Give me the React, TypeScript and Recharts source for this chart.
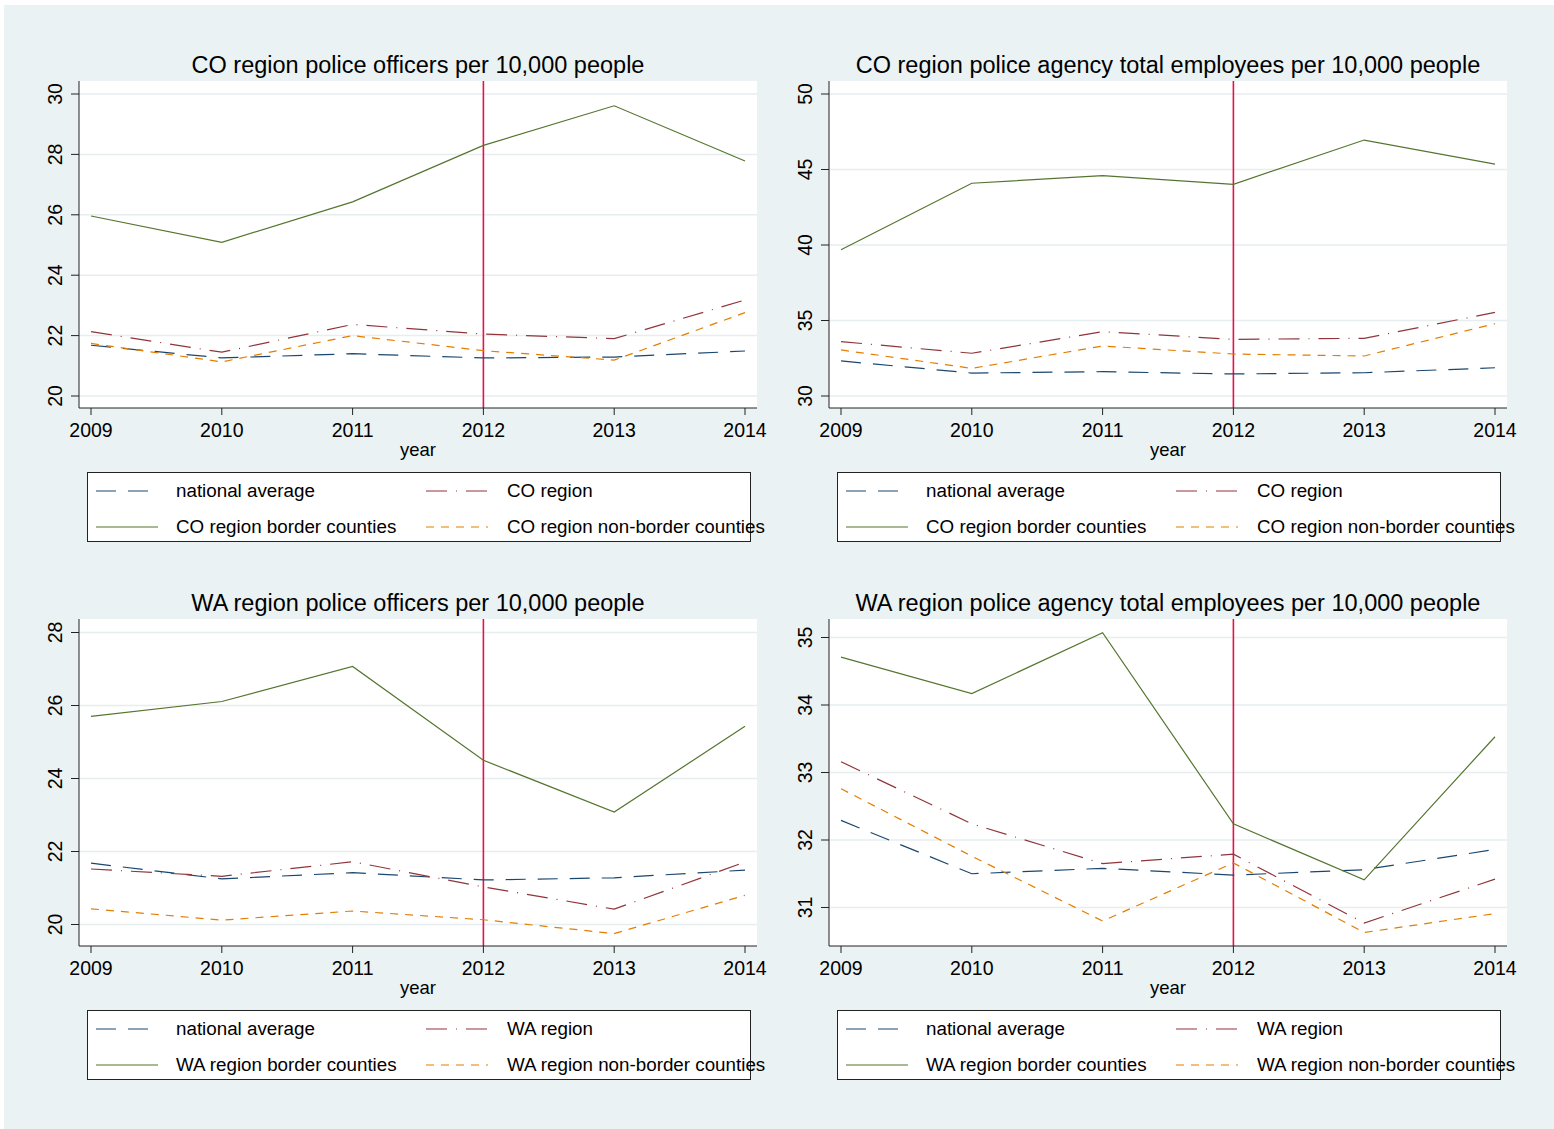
import React from 'react';
import {
  LineChart,
  Line,
  XAxis,
  YAxis,
  CartesianGrid,
  ReferenceLine,
} from 'recharts';

// years on the x axis
const years = [2009, 2010, 2011, 2012, 2013, 2014];

// CO region, officers per 10,000
const coOffNational = [21.68, 21.26, 21.4, 21.26, 21.29, 21.49];
const coOffRegion = [22.13, 21.45, 22.37, 22.05, 21.9, 23.18];
const coOffBorder = [25.96, 25.09, 26.43, 28.3, 29.61, 27.78];
const coOffNonBorder = [21.74, 21.13, 22.0, 21.5, 21.19, 22.76];

// CO region, total employees per 10,000
const coEmpNational = [32.32, 31.52, 31.61, 31.46, 31.54, 31.87];
const coEmpRegion = [33.6, 32.83, 34.26, 33.75, 33.82, 35.54];
const coEmpBorder = [39.69, 44.09, 44.59, 44.02, 46.95, 45.36];
const coEmpNonBorder = [33.05, 31.83, 33.31, 32.78, 32.65, 34.79];

// WA region, officers per 10,000
const waOffNational = [21.68, 21.25, 21.42, 21.22, 21.28, 21.49];
const waOffRegion = [21.52, 21.32, 21.72, 21.03, 20.42, 21.71];
const waOffBorder = [25.7, 26.11, 27.07, 24.5, 23.08, 25.43];
const waOffNonBorder = [20.43, 20.12, 20.37, 20.13, 19.75, 20.8];

// WA region, total employees per 10,000
const waEmpNational = [32.29, 31.5, 31.58, 31.48, 31.56, 31.86];
const waEmpRegion = [33.16, 32.24, 31.65, 31.79, 30.77, 31.42];
const waEmpBorder = [34.71, 34.17, 35.07, 32.24, 31.41, 33.53];
const waEmpNonBorder = [32.76, 31.76, 30.8, 31.66, 30.63, 30.91];

const coOffTicks = [20, 22, 24, 26, 28, 30];
const coEmpTicks = [30, 35, 40, 45, 50];
const waOffTicks = [20, 22, 24, 26, 28];
const waEmpTicks = [31, 32, 33, 34, 35];

const policyYear = 2012;

const FONT = '"Liberation Sans", Arial, sans-serif';
const BG = '#EAF2F3';
const PLOT_H = 327;

const lineStyles = [
  { key: 'national', color: '#1A476F', dash: '20 12' },
  { key: 'region', color: '#90353B', dash: '21 9 1 9' },
  { key: 'border', color: '#55752F', dash: undefined },
  { key: 'nonBorder', color: '#E37E00', dash: '8 7' },
];

const buildRows = (nat: number[], reg: number[], bor: number[], non: number[]) =>
  years.map((year, i) => ({
    year,
    national: nat[i],
    region: reg[i],
    border: bor[i],
    nonBorder: non[i],
  }));

// pad = pixels between the outer ticks and the plot edges
const panels = [
  {
    title: 'CO region police officers per 10,000 people',
    region: 'CO',
    left: 0,
    top: 0,
    rows: buildRows(coOffNational, coOffRegion, coOffBorder, coOffNonBorder),
    ticks: coOffTicks,
    pad: { top: 13, bottom: 12 },
  },
  {
    title: 'CO region police agency total employees per 10,000 people',
    region: 'CO',
    left: 750,
    top: 0,
    rows: buildRows(coEmpNational, coEmpRegion, coEmpBorder, coEmpNonBorder),
    ticks: coEmpTicks,
    pad: { top: 13, bottom: 12 },
  },
  {
    title: 'WA region police officers per 10,000 people',
    region: 'WA',
    left: 0,
    top: 538,
    rows: buildRows(waOffNational, waOffRegion, waOffBorder, waOffNonBorder),
    ticks: waOffTicks,
    pad: { top: 13.5, bottom: 21.5 },
  },
  {
    title: 'WA region police agency total employees per 10,000 people',
    region: 'WA',
    left: 750,
    top: 538,
    rows: buildRows(waEmpNational, waEmpRegion, waEmpBorder, waEmpNonBorder),
    ticks: waEmpTicks,
    pad: { top: 18.5, bottom: 38.5 },
  },
];

// widen the tick range so the outer ticks sit `pad` pixels inside the plot
const paddedDomain = (ticks: number[], pad: { top: number; bottom: number }) => {
  const lo = ticks[0];
  const hi = ticks[ticks.length - 1];
  const perPx = (hi - lo) / (PLOT_H - pad.top - pad.bottom);
  return [lo - pad.bottom * perPx, hi + pad.top * perPx];
};

// y labels are turned to read bottom-to-top, Stata style
const RotatedTick = (props: any) => {
  const { x, y, payload } = props;
  return (
    <text
      x={x}
      y={y}
      transform={`rotate(-90, ${x}, ${y})`}
      textAnchor="middle"
      fontSize={19.5}
      fontFamily={FONT}
      fill="#000"
    >
      {payload.value}
    </text>
  );
};

const LegendKey = ({ color, dash }: { color: string; dash?: string }) => (
  <svg width={62} height={4} style={{ display: 'block' }}>
    <line x1={0} y1={2} x2={62} y2={2} stroke={color} strokeWidth={1.2} strokeDasharray={dash} />
  </svg>
);

const Legend = ({ region }: { region: string }) => {
  const labels = [
    'national average',
    `${region} region`,
    `${region} region border counties`,
    `${region} region non-border counties`,
  ];
  const spots = [
    { sx: 8, tx: 88, y: 18 },
    { sx: 338, tx: 419, y: 18 },
    { sx: 8, tx: 88, y: 54 },
    { sx: 338, tx: 419, y: 54 },
  ];
  return (
    <div
      style={{
        position: 'absolute',
        left: 87,
        top: 472,
        width: 662,
        height: 68,
        background: '#fff',
        border: '1px solid #222',
      }}
    >
      {lineStyles.map((s, i) => (
        <React.Fragment key={s.key}>
          <div style={{ position: 'absolute', left: spots[i].sx, top: spots[i].y - 2 }}>
            <LegendKey color={s.color} dash={s.dash} />
          </div>
          <div
            style={{
              position: 'absolute',
              left: spots[i].tx,
              top: spots[i].y - 11,
              fontSize: 18.8,
              lineHeight: '22px',
              whiteSpace: 'nowrap',
              color: '#000',
            }}
          >
            {labels[i]}
          </div>
        </React.Fragment>
      ))}
    </div>
  );
};

const Panel = ({ p }: { p: (typeof panels)[number] }) => (
  <div style={{ position: 'absolute', left: p.left, top: p.top, width: 780, height: 545 }}>
    <div
      style={{
        position: 'absolute',
        left: 79,
        width: 678,
        top: 53,
        textAlign: 'center',
        fontSize: 23.5,
        lineHeight: '24px',
        whiteSpace: 'nowrap',
        color: '#000',
      }}
    >
      {p.title}
    </div>
    <div style={{ position: 'absolute', left: 0, top: 0 }}>
      <LineChart
        width={780}
        height={81 + PLOT_H + 62}
        data={p.rows}
        margin={{ top: 81, right: 23, bottom: 0, left: 0 }}
      >
        <CartesianGrid
          vertical={false}
          stroke="#E6EEF0"
          strokeWidth={1.5}
          fill="#fff"
          horizontalValues={p.ticks}
        />
        <XAxis
          dataKey="year"
          type="number"
          domain={[2009, 2014]}
          ticks={years}
          padding={{ left: 12, right: 12 }}
          height={62}
          tickSize={7}
          tickMargin={8}
          axisLine={{ stroke: '#222' }}
          tickLine={{ stroke: '#222' }}
          tick={{ fill: '#000', fontSize: 19.5, fontFamily: FONT }}
          label={{
            value: 'year',
            position: 'insideBottom',
            offset: 14,
            fill: '#000',
            fontSize: 18.5,
            fontFamily: FONT,
          }}
        />
        <YAxis
          type="number"
          domain={paddedDomain(p.ticks, p.pad)}
          allowDataOverflow
          ticks={p.ticks}
          width={79}
          tickSize={8}
          tickMargin={9}
          axisLine={{ stroke: '#222' }}
          tickLine={{ stroke: '#222' }}
          tick={<RotatedTick />}
        />
        <ReferenceLine x={policyYear} stroke="#E5134A" strokeWidth={1.6} />
        {lineStyles.map((s) => (
          <Line
            key={s.key}
            type="linear"
            dataKey={s.key}
            stroke={s.color}
            strokeWidth={1.2}
            strokeDasharray={s.dash}
            dot={false}
            activeDot={false}
            isAnimationActive={false}
          />
        ))}
      </LineChart>
    </div>
    <Legend region={p.region} />
  </div>
);

export default function App() {
  return (
    <div
      style={{
        position: 'absolute',
        left: 0,
        top: 0,
        width: 1554,
        height: 1129,
        background: '#fff',
        fontFamily: FONT,
        overflow: 'hidden',
      }}
    >
      <div style={{ position: 'absolute', left: 4, top: 5, right: 0, bottom: 0, background: BG }}>
        {panels.map((p) => (
          <div key={p.title} style={{ position: 'absolute', left: -4, top: -5 }}>
            <Panel p={p} />
          </div>
        ))}
      </div>
    </div>
  );
}
